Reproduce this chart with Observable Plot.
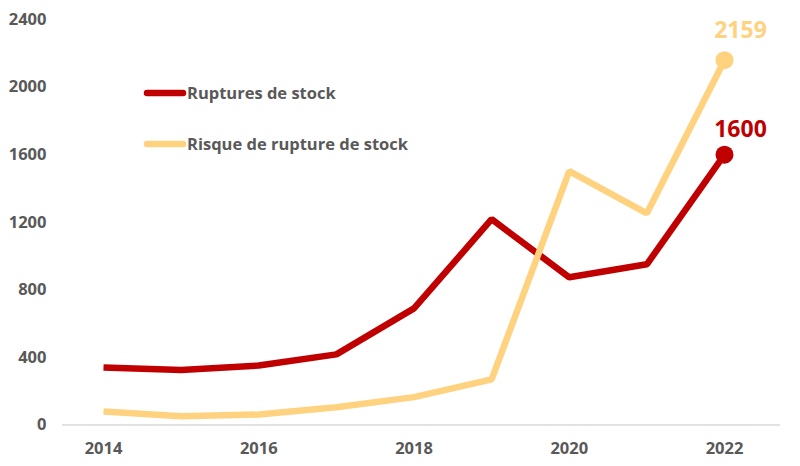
<!DOCTYPE html>
<html><head><meta charset="utf-8">
<script src="https://cdn.jsdelivr.net/npm/d3@7"></script>
<script src="https://cdn.jsdelivr.net/npm/@observablehq/plot@0.6"></script>
<style>
body{margin:0;background:#fff;font-family:"Open Sans",sans-serif;}
#chart{position:relative;width:800px;height:466px;}
</style></head><body><div id="chart"></div>
<script>
const years = [2014, 2015, 2016, 2017, 2018, 2019, 2020, 2021, 2022];
const ruptures = [340, 325, 352, 418, 690, 1218, 874, 951, 1600];
const risques = [80, 52, 62, 105, 165, 270, 1502, 1253, 2159];
const seriesNames = ["Ruptures de stock", "Risque de rupture de stock"];
const colors = ["#C00000", "#FFD27F"];
const yTicks = [0, 400, 800, 1200, 1600, 2000, 2400];
const xTicks = [2014, 2016, 2018, 2020, 2022];

const data = [];
years.forEach((y, i) => {
  data.push({year: y, value: ruptures[i], s: seriesNames[0]});
  data.push({year: y, value: risques[i], s: seriesNames[1]});
});
const n = years.length - 1;
const lastRisque = [{year: years[n], value: risques[n], s: seriesNames[1]}];
const lastRupture = [{year: years[n], value: ruptures[n], s: seriesNames[0]}];

const plot = Plot.plot({
  width: 800, height: 466,
  marginLeft: 62, marginRight: 20, marginTop: 19, marginBottom: 41.5,
  insetLeft: 41, insetRight: 56,
  style: {background: "#fff", fontFamily: "Open Sans, sans-serif"},
  x: {domain: [2014, 2022], ticks: xTicks, tickFormat: d => String(d), label: null, tickSize: 0},
  y: {domain: [0, 2400], ticks: yTicks, tickFormat: d => String(d), label: null, tickSize: 0},
  color: {domain: seriesNames, range: colors},
  marks: [
    Plot.ruleY([0], {stroke: "#d9d9d9", strokeWidth: 1.5}),
    Plot.axisY({ticks: yTicks, tickSize: 0, tickPadding: 16, fontSize: 16.5, fontWeight: "bold", fill: "#595959", tickFormat: d => String(d), label: null}),
    Plot.axisX({ticks: xTicks, tickSize: 0, tickPadding: 17, fontSize: 16.5, fontWeight: "bold", fill: "#595959", tickFormat: d => String(d), label: null}),
    Plot.line(data, {x: "year", y: "value", z: "s", stroke: "s", strokeWidth: 6.5, strokeLinejoin: "miter", strokeLinecap: "butt"}),
    Plot.dot([...lastRisque, ...lastRupture], {x: "year", y: "value", fill: "s", r: 9}),
    Plot.text(lastRisque, {x: "year", y: "value", text: d => String(d.value), fill: "s", dy: -30, dx: 16, fontSize: 23, fontWeight: "bold", letterSpacing: 0.5}),
    Plot.text(lastRupture, {x: "year", y: "value", text: d => String(d.value), fill: "s", dy: -25, dx: 16, fontSize: 23, fontWeight: "bold", letterSpacing: 0.5})
  ]
});
document.getElementById("chart").appendChild(plot);

// legend drawn inside the svg
const svg = d3.select(plot);
const legendY = [93, 144];
seriesNames.forEach((name, i) => {
  const g = svg.append("g");
  g.append("line").attr("x1", 147).attr("x2", 183).attr("y1", legendY[i]).attr("y2", legendY[i])
    .attr("stroke", colors[i]).attr("stroke-width", 6.5).attr("stroke-linecap", "round");
  g.append("text").attr("x", 187).attr("y", legendY[i]).attr("dy", "0.35em")
    .attr("text-anchor", "start")
    .attr("fill", "#595959").attr("font-size", 16.5).attr("font-weight", "bold")
    .attr("font-family", "Open Sans, sans-serif").text(name);
});
</script></body></html>
